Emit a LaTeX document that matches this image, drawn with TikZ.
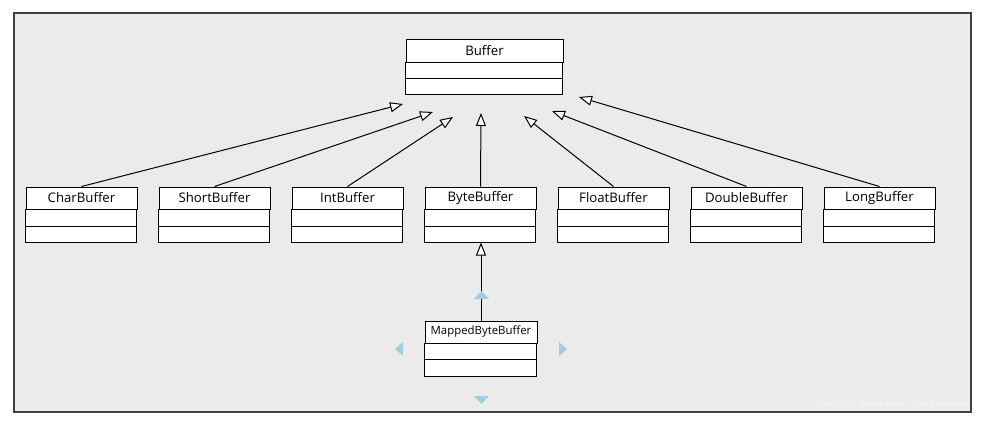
\documentclass[tikz,border=0pt]{standalone}
\usepackage{fontspec}
\setmainfont{Open Sans}
\usepackage{tikz}
\usetikzlibrary{arrows.meta, positioning, calc}

\definecolor{panel}{RGB}{235,235,235}
\definecolor{frame}{RGB}{64,64,64}
\definecolor{handle}{RGB}{160,205,225}

\begin{document}
\begin{tikzpicture}[
    x=1pt, y=-1pt,
    cls/.style={
        rectangle, draw=black, fill=white, line width=1pt,
        minimum width=111pt, minimum height=22pt, inner sep=0pt,
        text centered, font=\fontsize{13.2}{15}\selectfont
    },
    row/.style={draw=black, fill=white, line width=1pt},
    arrow/.style={-{Triangle[length=13pt, width=10pt, fill=white]}, line width=1pt, black}
]
    \useasboundingbox (0,0) rectangle (983,423);
    \draw[frame, fill=panel, line width=1.4pt] (14,13) rectangle (971,412);

    % base class
    \node[cls, minimum width=157pt, minimum height=23pt] (B) at (484.5,50.5) {Buffer};
    \draw[row] (B.south west) rectangle ++(157,16);
    \draw[row] ($(B.south west)+(0,16)$) rectangle ++(157,16);

    % subclasses
    \node[cls] (C1) at (81.5,198)  {CharBuffer};
    \node[cls] (C2) at (214.5,198) {ShortBuffer};
    \node[cls] (C3) at (347.5,198) {IntBuffer};
    \node[cls] (C4) at (480.5,198) {ByteBuffer};
    \node[cls] (C5) at (613.5,198) {FloatBuffer};
    \node[cls] (C6) at (746.5,198) {DoubleBuffer};
    \node[cls] (C7) at (879.5,198) {LongBuffer};
    \node[cls, minimum width=112pt, font=\fontsize{11.4}{13}\selectfont] (M) at (481,332) {MappedByteBuffer};

    \foreach \n in {C1,C2,C3,C4,C5,C6,C7} {
        \draw[row] (\n.south west) rectangle ++(111,16.5);
        \draw[row] ($(\n.south west)+(0,16.5)$) rectangle ++(111,16.5);
    }
    \draw[row] (M.south west) rectangle ++(112,16);
    \draw[row] ($(M.south west)+(0,16)$) rectangle ++(112,17);

    % arrow tips below Buffer
    \coordinate (T1) at (403,104);
    \coordinate (T2) at (433,112);
    \coordinate (T3) at (453,117);
    \coordinate (T4) at (481,113);
    \coordinate (T5) at (524,116);
    \coordinate (T6) at (552,111);
    \coordinate (T7) at (579,97);

    \foreach \i/\j in {C1/T1, C2/T2, C3/T3, C4/T4, C5/T5, C6/T6, C7/T7} {
        \draw[arrow] (\i.north) -- (\j);
    }
    \draw[arrow] (M.north) -- ($(C4.south)+(0.5,33)$);

    % selection handles
    \fill[handle] (474,299) -- (481.5,291) -- (489,299) -- cycle;
    \fill[handle] (474,396) -- (481.5,404) -- (489,396) -- cycle;
    \fill[handle] (403,342) -- (395,349) -- (403,356) -- cycle;
    \fill[handle] (559,342) -- (567,349) -- (559,356) -- cycle;

    \node[anchor=south east, inner sep=0pt, text=white!60!panel, font=\fontsize{8}{9}\selectfont] (W) at (968,409) {https://tipb-bobokaoya-sm.blog.csdn.net};
\end{tikzpicture}
\end{document}
